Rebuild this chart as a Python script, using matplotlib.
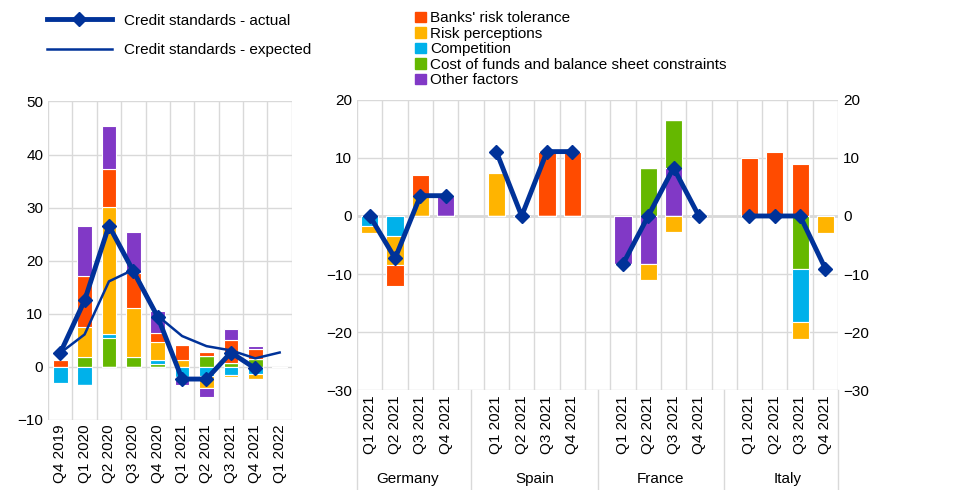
import numpy as np
import matplotlib.pyplot as plt

plt.rcParams['font.family'] = ['Liberation Sans', 'DejaVu Sans']
plt.rcParams['font.size'] = 11

factors = ["Banks' risk tolerance", "Risk perceptions", "Competition",
           "Cost of funds and balance sheet constraints", "Other factors"]
colors = ["#FF4B00", "#FFB400", "#00B1EA", "#65B800", "#8139C6"]
navy = "#003299"

# ---- left panel: euro area
ea_labels = ["Q4 2019", "Q1 2020", "Q2 2020", "Q3 2020", "Q4 2020", "Q1 2021",
             "Q2 2021", "Q3 2021", "Q4 2021", "Q1 2022"]
ea_banks = [1.3, 9.7, 7.1, 6.6, 1.7, 3.0, 0.8, 4.2, 1.9, 0]
ea_risk = [-0.3, 5.6, 24.0, 9.2, 3.4, 1.2, -2.2, -0.4, -0.8, 0]
ea_comp = [-3.0, -3.5, 0.7, 0.0, 0.6, -2.0, -1.7, -1.5, -1.4, 0]
ea_cost = [0.0, 1.9, 5.4, 1.9, 0.6, 0.0, 2.0, 0.8, 1.5, 0]
ea_other = [0.0, 9.3, 8.1, 7.7, 4.2, -1.5, -1.7, 2.2, 0.6, 0]
ea_actual = [2.6, 12.5, 26.6, 18.0, 9.4, -2.3, -2.3, 2.7, -0.3]
ea_expected = [2.6, 6.1, 16.1, 18.3, 9.6, 5.8, 3.9, 3.1, 1.6, 2.7]

# ---- right panel: countries
countries = ["Germany", "Spain", "France", "Italy"]
q_labels = ["Q1 2021", "Q2 2021", "Q3 2021", "Q4 2021"]
c_banks = [0, -3.5, 3.6, 0, 0, 0, 11.1, 11.1, 0, 0, 0, 0, 10.0, 11.1, 9.0, 0]
c_risk = [-1.2, -5.0, 3.5, 0, 7.4, 0, 0, 0, 0, -2.8, -2.7, 0, 0, 0, -3.0, -3.0]
c_comp = [-1.7, -3.5, 0, 0, 0, 0, 0, 0, 0, 0, 0, 0, 0, 0, -9.1, 0]
c_cost = [0, 0, 0, 0, 0, 0, 0, 0, 0, 8.3, 8.3, 0, 0, 0, -9.1, 0]
c_other = [0, 0, 0, 3.5, 0, 0, 0, 0, -8.3, -8.3, 8.3, 0, 0, 0, 0, 0]
c_actual = [0, -7.3, 3.5, 3.5, 11.1, 0, 11.1, 11.1, -8.3, 0, 8.3, 0, 0, 0, 0, -9.1]


def stack(ax, x, series, width, pos_order, neg_order):
    for order, sign in ((pos_order, 1), (neg_order, -1)):
        base = np.zeros(len(x))
        for i in order:
            v = np.array(series[i], dtype=float)
            v = np.where(v * sign > 0, v, 0)
            ax.bar(x, v, width, bottom=base, color=colors[i], edgecolor="white",
                   linewidth=0.8, zorder=2)
            base = base + v


fig = plt.figure(figsize=(9.6, 4.9), dpi=100)
ax1 = fig.add_axes([0.05, 0.143, 0.254, 0.65])
ax2 = fig.add_axes([0.372, 0.204, 0.501, 0.592])

# left
x1 = np.arange(len(ea_labels))
stack(ax1, x1, [ea_banks, ea_risk, ea_comp, ea_cost, ea_other], 0.6,
      (3, 2, 1, 0, 4), (3, 2, 1, 0, 4))
l1, = ax1.plot(x1[:len(ea_actual)], ea_actual, color=navy, lw=3.5, marker="D", ms=7, zorder=4)
l2, = ax1.plot(x1, ea_expected, color=navy, lw=1.8, zorder=3)
ax1.set_xlim(-0.5, len(x1) - 0.5)
ax1.set_ylim(-10, 50)
ax1.set_yticks(range(-10, 51, 10))
ax1.set_xticks(x1)
ax1.set_xticklabels(ea_labels, rotation=90)
ax1.set_xticks(np.arange(-0.5, len(x1)), minor=True)
ax1.grid(True, which="minor", axis="x", color="#d9d9d9", lw=1, zorder=0)
ax1.grid(True, which="major", axis="y", color="#d9d9d9", lw=1, zorder=0)
ax1.tick_params(which="both", length=0)
ax1.tick_params(labelsize=11)
for s in ax1.spines.values():
    s.set_visible(False)
fig.legend([l1, l2], ["Credit standards - actual", "Credit standards - expected"],
           loc="upper left", bbox_to_anchor=(0.035, 1.0), frameon=False, fontsize=11,
           handlelength=4.2, labelspacing=1.0)

# right
x2 = np.array([g * 5 + q for g in range(4) for q in range(4)])
stack(ax2, x2, [c_banks, c_risk, c_comp, c_cost, c_other], 0.68,
      (4, 3, 2, 1, 0), (3, 4, 2, 1, 0))
for g in range(4):
    ax2.plot(x2[g * 4:(g + 1) * 4], c_actual[g * 4:(g + 1) * 4], color=navy, lw=3.5,
             marker="D", ms=7, zorder=4)
ax2.set_xlim(-0.5, 18.5)
ax2.set_ylim(-30, 20)
ax2.set_yticks(range(-30, 21, 10))
ax2.set_xticks(x2)
ax2.set_xticklabels(q_labels * 4, rotation=90)
ax2.set_xticks(np.arange(-0.5, 19), minor=True)
ax2.grid(True, which="minor", axis="x", color="#d9d9d9", lw=1, zorder=0)
ax2.grid(True, which="major", axis="y", color="#d9d9d9", lw=1, zorder=0)
ax2.axhline(0, color="#d9d9d9", lw=2, zorder=1)
ax2.tick_params(which="both", length=0, labelsize=11)
ax2.tick_params(axis="y", labelright=True, right=False)
for s in ax2.spines.values():
    s.set_visible(False)
for g, name in enumerate(countries):
    ax2.text(g * 5 + 1.5, -0.305, name, transform=ax2.get_xaxis_transform(),
             ha="center", va="center", fontsize=11)
for b in [-0.5, 4.0, 9.0, 14.0, 18.5]:
    ax2.plot([b, b], [0, -0.35], transform=ax2.get_xaxis_transform(), color="#d9d9d9",
             lw=1, clip_on=False)
handles = [plt.Rectangle((0, 0), 1, 1, color=c) for c in colors]
fig.legend(handles, factors, loc="upper left", bbox_to_anchor=(0.418, 1.005), frameon=False,
           fontsize=11, handlelength=0.7, handleheight=0.7, handletextpad=0.3, labelspacing=0.1)

fig.savefig("out.png", dpi=100)
